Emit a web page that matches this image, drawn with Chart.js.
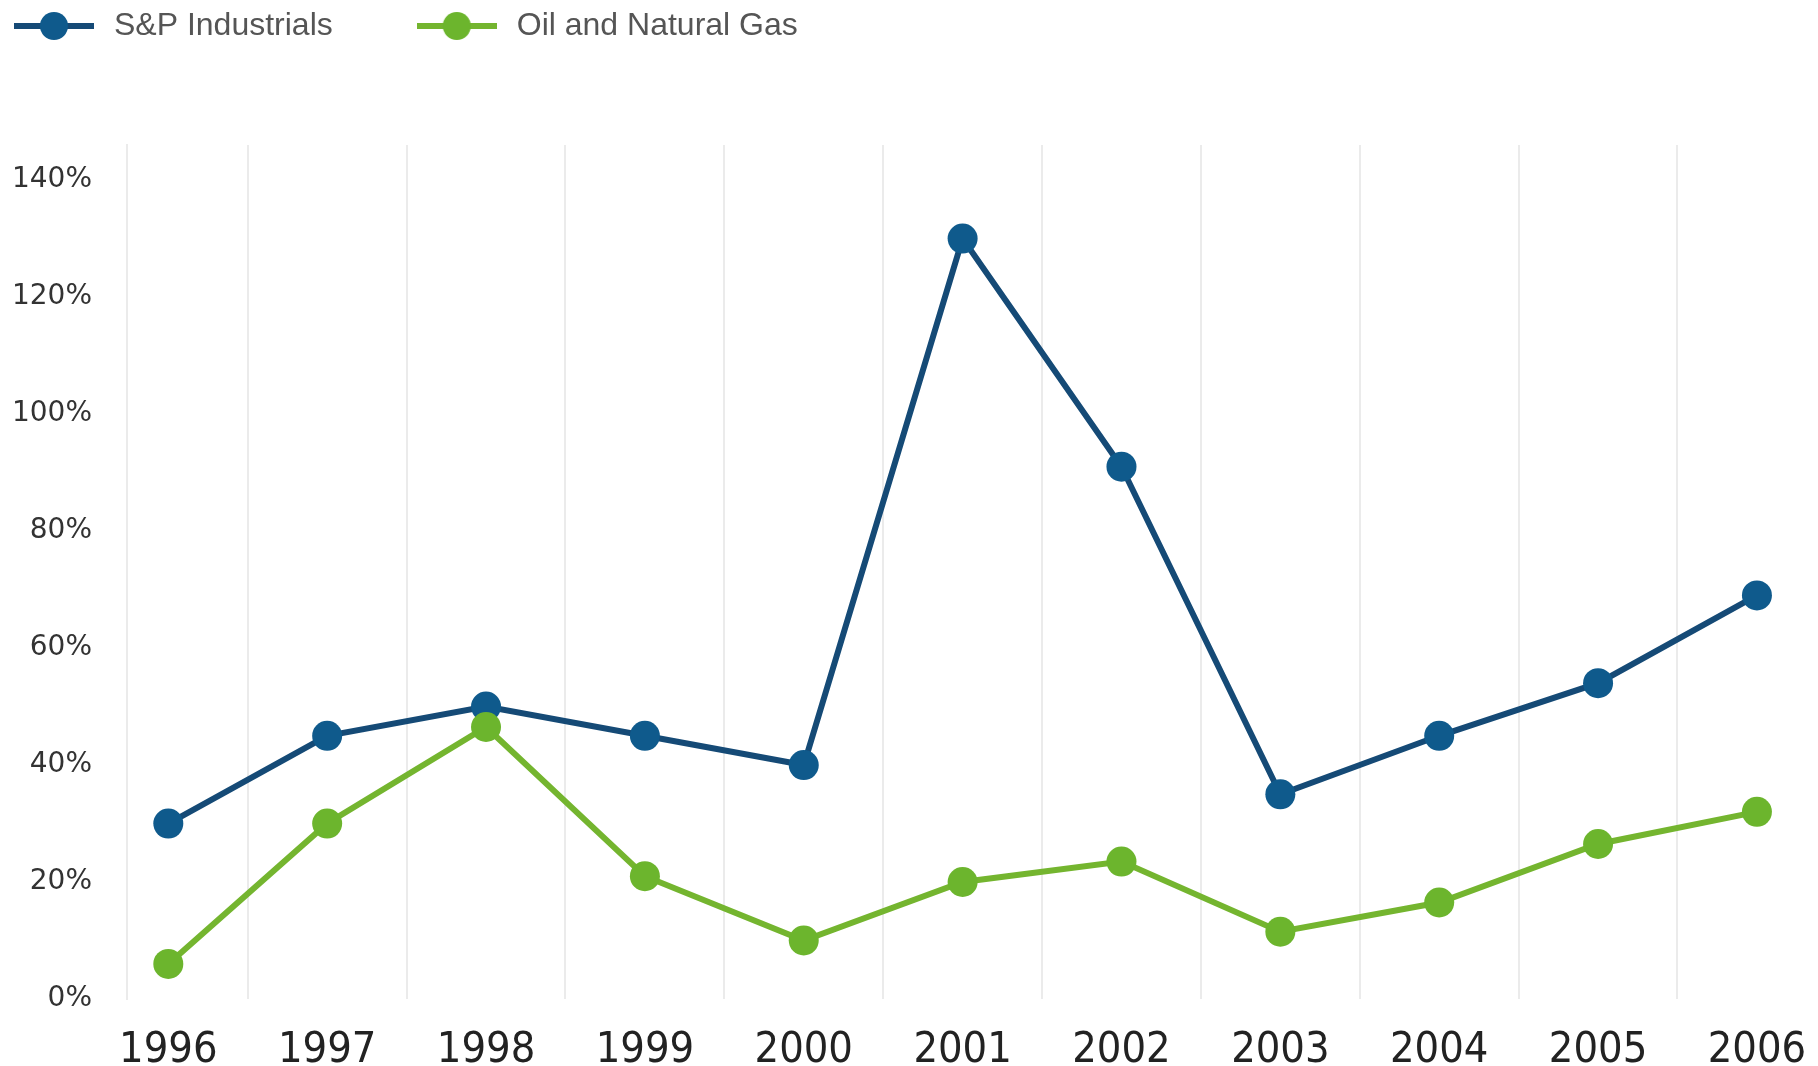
<!DOCTYPE html>
<html>
<head>
<meta charset="utf-8">
<script src="https://cdn.jsdelivr.net/npm/chart.js@4.4.1/dist/chart.umd.min.js"></script>
<style>
  html, body { margin: 0; padding: 0; background: #fff; }
  #wrap { width: 1818px; height: 1066px; }
</style>
</head>
<body>
<div id="wrap"><canvas id="chart"></canvas></div>
<script>
// years on the x axis
const years = [1996, 1997, 1998, 1999, 2000, 2001, 2002, 2003, 2004, 2005, 2006];

// values in %
const spIndustrials = [30, 45, 50, 45, 40, 130, 91, 35, 45, 54, 69];
const oilGas = [6, 30, 46.5, 21, 10, 20, 23.5, 11.5, 16.5, 26.5, 32];

// y axis tick labels
const yTicks = [0, 20, 40, 60, 80, 100, 120, 140];

const seriesNames = ['S&P Industrials', 'Oil and Natural Gas'];
const lineColors = ['#154a76', '#74b52f'];
const dotColors = ['#0f5a8c', '#6cb52d'];

// legend marker: short line with a dot in the middle
function makeMarker(lineColor, dotColor) {
  const c = document.createElement('canvas');
  c.width = 80;
  c.height = 32;
  const g = c.getContext('2d');
  g.strokeStyle = lineColor;
  g.lineWidth = 6;
  g.beginPath();
  g.moveTo(0, 16);
  g.lineTo(80, 16);
  g.stroke();
  g.fillStyle = dotColor;
  g.beginPath();
  g.arc(40, 16, 14, 0, Math.PI * 2);
  g.fill();
  return c;
}
const markers = lineColors.map((c, i) => makeMarker(c, dotColors[i]));

// legend sits in the top-left corner above the plot
const legendOffset = {
  id: 'legendOffset',
  afterLayout(chart) {
    chart.legend.left -= 70;
    chart.legend.top -= 93;
  }
};

const toPoints = vals => years.map((y, i) => ({ x: y, y: vals[i] }));

new Chart(document.getElementById('chart'), {
  type: 'line',
  data: {
    datasets: [
      {
        label: seriesNames[0],
        data: toPoints(spIndustrials),
        borderColor: lineColors[0],
        backgroundColor: dotColors[0],
        pointBackgroundColor: dotColors[0],
        order: 2
      },
      {
        label: seriesNames[1],
        data: toPoints(oilGas),
        borderColor: lineColors[1],
        backgroundColor: dotColors[1],
        pointBackgroundColor: dotColors[1],
        order: 1
      }
    ]
  },
  options: {
    responsive: true,
    maintainAspectRatio: false,
    animation: false,
    layout: { padding: { top: 23, right: 10, bottom: 0, left: 0 } },
    elements: {
      line: { borderWidth: 6, tension: 0, fill: false },
      point: { radius: 15, borderWidth: 0, hoverRadius: 15 }
    },
    plugins: {
      tooltip: { enabled: false },
      legend: {
        position: 'top',
        align: 'start',
        labels: {
          usePointStyle: true,
          pointStyleWidth: 88,
          padding: 80,
          color: '#555',
          font: { family: "'Liberation Sans', Arial, sans-serif", size: 32 },
          sort: (a, b) => a.datasetIndex - b.datasetIndex,
          generateLabels: chart => {
            const items = Chart.defaults.plugins.legend.labels.generateLabels(chart);
            items.forEach(item => { item.pointStyle = markers[item.datasetIndex]; });
            return items;
          }
        }
      }
    },
    scales: {
      x: {
        type: 'linear',
        min: 1995.74,
        max: 2006.29,
        afterBuildTicks: axis => {
          const vals = [];
          years.forEach((y, i) => {
            vals.push(y);
            if (i < years.length - 1) vals.push(y + 0.5);
          });
          axis.ticks = vals.map(v => ({ value: v }));
        },
        afterFit: axis => { axis.height = 67; },
        border: { display: false },
        grid: {
          drawTicks: true,
          tickLength: 26,
          tickColor: 'rgba(0,0,0,0)',
          lineWidth: 2,
          color: ctx => (ctx.tick && ctx.tick.value % 1 !== 0) ? '#ebebeb' : 'rgba(0,0,0,0)'
        },
        ticks: {
          autoSkip: false,
          maxRotation: 0,
          minRotation: 0,
          padding: 0,
          color: '#222',
          font: { family: "'Liberation Sans Narrow', 'DejaVu Sans Condensed', 'Liberation Sans', sans-serif", size: 43 },
          callback: v => (v % 1 === 0 ? String(v) : '')
        }
      },
      y: {
        min: 0,
        max: 146,
        afterBuildTicks: axis => { axis.ticks = yTicks.map(v => ({ value: v })); },
        afterFit: axis => { axis.width = 127; },
        grid: { display: false, drawTicks: false },
        border: { display: true, color: '#ebebeb', width: 2 },
        ticks: {
          padding: 35,
          color: '#333',
          font: { family: "'DejaVu Sans', sans-serif", size: 28 },
          callback: v => v + '%'
        }
      }
    }
  },
  plugins: [legendOffset]
});
</script>
</body>
</html>
